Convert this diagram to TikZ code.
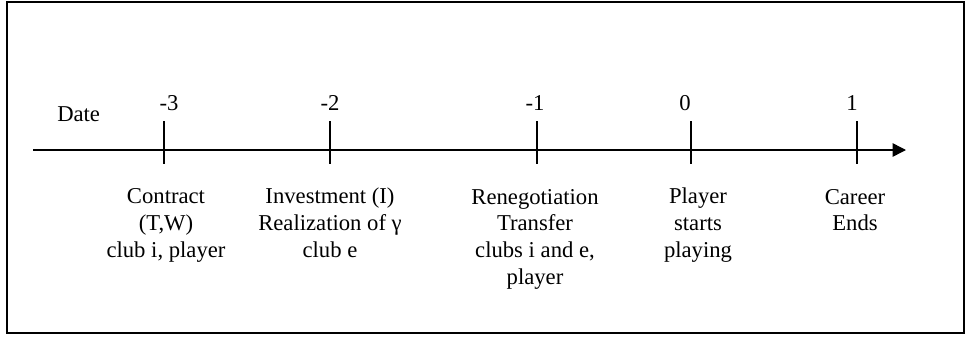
\documentclass[tikz,border=0pt]{standalone}
\usepackage{fontspec}
\setmainfont{Liberation Serif}
\usetikzlibrary{arrows.meta}
\begin{document}
\begin{tikzpicture}
  [x=0.75pt,y=-0.75pt,every node/.style={inner sep=0pt,font=\fontsize{17}{20}\selectfont}]
  \useasboundingbox (0,0) rectangle (966,336);
  \draw[line width=1.4pt] (7,2) rectangle (964,333);

  \coordinate (start) at (33,150);
  \coordinate (end) at (906,150);
  \draw[line width=1.1pt,-{Triangle[length=10pt,width=10pt]}] (start) -- (end);

  \foreach \name/\x in {t3/164,t2/330,t1/537,t0/691,tp/857}
    \draw[line width=1.1pt] (\x,121) coordinate (\name a) -- (\x,164) coordinate (\name b);

  \node[anchor=base west] (date) at (57,121) {Date};
  \node[anchor=base] (d3) at (169,110) {-3};
  \node[anchor=base] (d2) at (330,110) {-2};
  \node[anchor=base] (d1) at (535,110) {-1};
  \node[anchor=base] (d0) at (685,110) {0};
  \node[anchor=base] (dp) at (852,110) {1};

  % base = last line, first line at y=204
  \node[anchor=base,align=center] (contract) at (166,257.3) {Contract\\(T,W)\\club i, player};
  \node[anchor=base,align=center] (invest) at (330,257.3) {Investment (I)\\Realization of γ\\club e};
  \node[anchor=base,align=center] (reneg) at (535,284) {Renegotiation\\Transfer\\clubs i and e,\\player};
  \node[anchor=base,align=center] (play) at (698,257.3) {Player\\starts\\playing};
  \node[anchor=base,align=center] (career) at (855,230.7) {Career\\Ends};
\end{tikzpicture}
\end{document}
